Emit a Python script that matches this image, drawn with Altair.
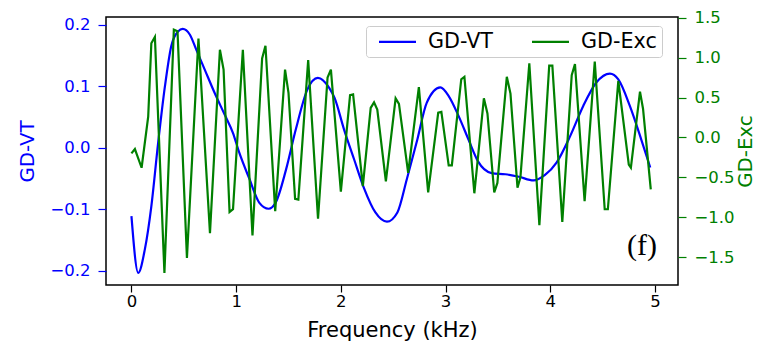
import altair as alt
import pandas as pd

# GD-VT (left axis)
vt_freq = [0.0, 0.065, 0.128, 0.19, 0.255, 0.32, 0.38, 0.445, 0.49, 0.557, 0.62, 0.70, 0.795, 0.89,
           0.97, 1.03, 1.128, 1.22, 1.31, 1.38, 1.477, 1.57, 1.68, 1.78, 1.89, 1.94, 2.03, 2.127,
           2.22, 2.33, 2.44, 2.54, 2.63, 2.73, 2.82, 2.95, 3.03, 3.126, 3.22, 3.31, 3.44, 3.57,
           3.70, 3.84, 3.95, 4.06, 4.19, 4.315, 4.44, 4.57, 4.65, 4.76, 4.87, 4.955]
vt_val = [-0.111, -0.203, -0.165, -0.095, 0.008, 0.100, 0.165, 0.189, 0.193, 0.184, 0.159, 0.127,
          0.089, 0.054, 0.024, -0.008, -0.051, -0.089, -0.099, -0.088, -0.035, 0.030, 0.0945,
          0.1135, 0.097, 0.081, 0.030, -0.019, -0.065, -0.105, -0.120, -0.105, -0.051, 0.013,
          0.073, 0.098, 0.084, 0.051, 0.013, -0.022, -0.041, -0.043, -0.047, -0.053, -0.044,
          -0.024, 0.019, 0.068, 0.106, 0.1205, 0.111, 0.068, 0.013, -0.032]

# GD-Exc (right axis)
exc_freq = [0.0, 0.033, 0.097, 0.16, 0.19, 0.224, 0.315, 0.405, 0.44, 0.53, 0.64, 0.75, 0.845, 0.88,
            0.937, 0.97, 1.064, 1.156, 1.248, 1.28, 1.373, 1.467, 1.50, 1.563, 1.594, 1.688, 1.782,
            1.873, 1.905, 2.0, 2.088, 2.117, 2.21, 2.285, 2.317, 2.348, 2.43, 2.523, 2.555, 2.643,
            2.745, 2.834, 2.93, 2.96, 3.03, 3.06, 3.15, 3.18, 3.275, 3.366, 3.40, 3.465, 3.495,
            3.585, 3.62, 3.687, 3.715, 3.80, 3.896, 3.99, 4.02, 4.115, 4.205, 4.236, 4.328, 4.425,
            4.52, 4.55, 4.65, 4.75, 4.77, 4.857, 4.886, 4.96]
exc_val = [-0.20, -0.145, -0.38, 0.26, 1.18, 1.26, -1.70, 1.35, 1.33, -1.51, 1.24, -1.20, 1.10, 0.85,
           -0.935, -0.90, 1.10, -1.23, 0.99, 1.15, -0.925, 0.85, 0.56, -0.77, -0.78, 0.97, -1.02,
           0.75, 0.85, -0.68, 0.53, 0.54, -0.61, 0.37, 0.44, 0.35, -0.55, 0.49, 0.42, -0.445,
           0.63, -0.69, 0.31, 0.32, -0.35, -0.35, 0.73, 0.76, -0.70, 0.49, 0.30, -0.69, -0.57,
           0.76, 0.55, -0.63, -0.50, 0.93, -1.10, 0.90, 0.90, -1.06, 0.78, 0.92, -0.80, 0.95,
           -0.90, -0.90, 0.71, -0.34, -0.38, 0.575, 0.36, -0.65]

series_names = ["GD-VT", "GD-Exc"]
series_colors = ["#0000ff", "#008000"]
x_ticks = [0, 1, 2, 3, 4, 5]
left_ticks = [-0.2, -0.1, 0.0, 0.1, 0.2]
right_ticks = [-1.5, -1.0, -0.5, 0.0, 0.5, 1.0, 1.5]

vt = pd.DataFrame({"freq": vt_freq, "val": vt_val, "series": series_names[0]})
exc = pd.DataFrame({"freq": exc_freq, "val": exc_val, "series": series_names[1]})

FONT = "DejaVu Sans"
W, H = 572, 268

color = alt.Color(
    "series:N",
    scale=alt.Scale(domain=series_names, range=series_colors),
    legend=alt.Legend(
        title=None, orient="none", legendX=260, legendY=9, direction="horizontal", columns=2,
        symbolType="M-2,0H2", symbolSize=342, symbolStrokeWidth=2.2,
        labelFont=FONT, labelFontSize=20.7, labelColor="black", labelOffset=20,
        columnPadding=30, padding=5, symbolOffset=16,
        strokeColor="#cccccc", fillColor="rgba(255,255,255,0.8)", cornerRadius=3,
    ),
)

x = alt.X(
    "freq:Q",
    scale=alt.Scale(domain=[-0.243, 5.22], nice=False, zero=False),
    axis=alt.Axis(
        values=x_ticks, format="d", title="Frequency (kHz)", grid=False, domain=False,
        tickSize=7, tickColor="black", tickWidth=1.2, labelPadding=1,
        labelFont=FONT, labelFontSize=16.5, labelColor="black",
        titleFont=FONT, titleFontSize=21, titleFontWeight="normal", titleColor="black",
        titleX=W / 2, titleY=45, titleBaseline="middle",
    ),
)

blue = alt.Chart(vt).mark_line(strokeWidth=2.2, interpolate="monotone").encode(
    x=x,
    y=alt.Y(
        "val:Q",
        scale=alt.Scale(domain=[-0.2228, 0.2124], nice=False, zero=False),
        axis=alt.Axis(
            orient="left", values=left_ticks, format=".1f", title="GD-VT", grid=False, domain=False,
            tickSize=8, tickColor="#0000ff", tickWidth=1.2, labelPadding=8,
            labelFont=FONT, labelFontSize=16.5, labelColor="#0000ff",
            titleFont=FONT, titleFontSize=19.8, titleFontWeight="normal", titleColor="#0000ff",
            titleX=-79, titleY=H / 2, titleBaseline="middle", titleAngle=270,
        ),
    ),
    color=color,
)

green = alt.Chart(exc).mark_line(strokeWidth=2.2).encode(
    x=x,
    y=alt.Y(
        "val:Q",
        scale=alt.Scale(domain=[-1.85, 1.51], nice=False, zero=False),
        axis=alt.Axis(
            orient="right", values=right_ticks, format=".1f", title="GD-Exc", grid=False, domain=False,
            tickSize=8, tickColor="#008000", tickWidth=1.2, labelPadding=8,
            labelFont=FONT, labelFontSize=16.5, labelColor="#008000",
            titleFont=FONT, titleFontSize=19.8, titleFontWeight="normal", titleColor="#008000",
            titleX=67, titleY=H / 2, titleBaseline="middle", titleAngle=270,
        ),
    ),
    color=color,
)

label = alt.Chart(pd.DataFrame({"t": ["(f)"]})).mark_text(
    font="Liberation Serif", fontSize=30, align="center", baseline="middle", color="black"
).encode(text="t:N", x=alt.value(536), y=alt.value(229))

chart = (
    alt.layer(blue, green, label)
    .resolve_scale(y="independent")
    .properties(
        width=W, height=H,
        autosize=alt.AutoSizeParams(type="none"),
        padding={"left": 98, "top": 9, "right": 77, "bottom": 60},
    )
    .configure_view(stroke="black", strokeWidth=1.5)
)

chart.save("out.html", embed_options={"renderer": "svg", "actions": False})
